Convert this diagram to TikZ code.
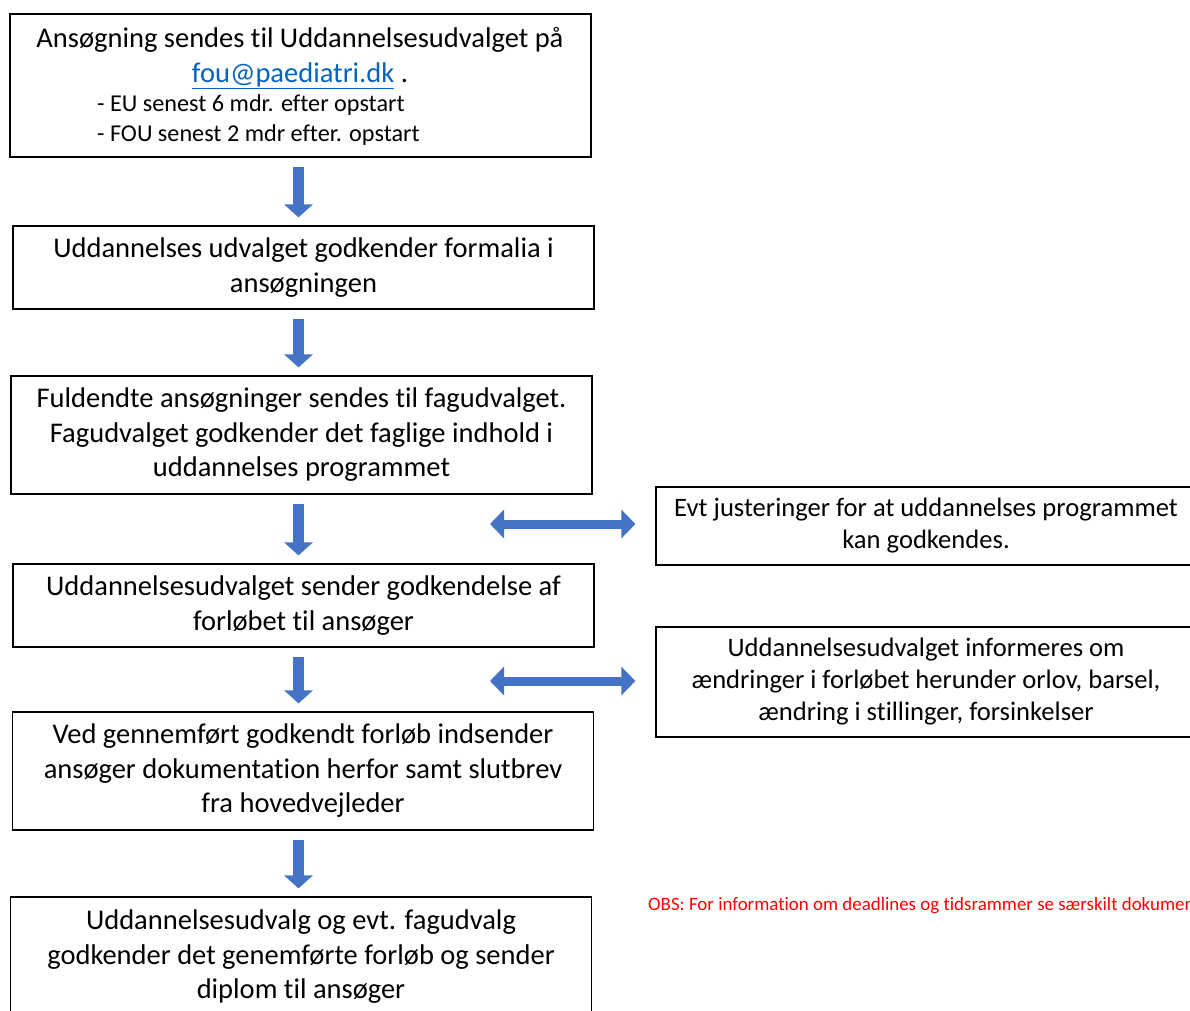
\documentclass[tikz,border=0pt]{standalone}
\usepackage{fontspec}
\setmainfont{Carlito}[Ligatures={NoCommon}]
\usepackage{tikz}
\usetikzlibrary{arrows.meta}
\usetikzlibrary{positioning}
\definecolor{arrowblue}{HTML}{4472C4}
\definecolor{linkblue}{HTML}{0563C1}
\definecolor{obsred}{HTML}{FF0000}
\tikzset{
% Flow boxes and blue block arrows
flowbox/.style={rectangle, draw=black, line width=1.2pt, align=center,
  minimum width=581pt, font=\fontsize{28.5}{34.5}\selectfont},
sidebox/.style={flowbox, minimum width=540pt, font=\fontsize{26.6}{32}\selectfont},
blockarrow/.style={draw=arrowblue, line width=11pt,
  -{Triangle[width=28pt, length=13pt]}, shorten <=9pt, shorten >=8pt},
twoway/.style={draw=arrowblue, line width=9pt,
  {Triangle[width=28pt, length=14pt]}-{Triangle[width=28pt, length=14pt]},
  shorten <=20pt}
}

\begin{document}
\begin{tikzpicture}[x=1pt, y=-1pt]
  \useasboundingbox (0,0) rectangle (1190,1010);
  \fill[white] (0,0) rectangle (1190,1010);

  \node[flowbox, minimum height=143pt] (ansog) at (300.5,85.5) {};
  \node[align=center, font=\fontsize{28.5}{34.5}\selectfont] (ansogtxt) at (300,58)
    {Ansøgning sendes til Uddannelsesudvalget på\\{\color{linkblue}\underline{fou@paediatri.dk}} .};
  \node[anchor=west, align=left, inner sep=0, font=\fontsize{24.2}{30}\selectfont] (frister) at (97,120)
    {- EU senest 6 mdr. efter opstart\\- FOU senest 2 mdr efter. opstart};

  \node[flowbox, minimum height=83pt] (formalia) at (303.5,267.5)
    {Uddannelses udvalget godkender formalia i\\ansøgningen};
  \node[flowbox, minimum height=118pt] (fagligt) at (301.5,435)
    {Fuldendte ansøgninger sendes til fagudvalget.\\Fagudvalget godkender det faglige indhold i\\uddannelses programmet};
  \node[flowbox, minimum height=83pt] (godkend) at (303.5,605.5)
    {Uddannelsesudvalget sender godkendelse af\\forløbet til ansøger};
  \node[flowbox, minimum height=118pt] (slutbrev) at (303,771)
    {Ved gennemført godkendt forløb indsender\\ansøger dokumentation herfor samt slutbrev\\fra hovedvejleder};
  \node[flowbox, minimum height=120pt] (diplom) at (301,957)
    {Uddannelsesudvalg og evt. fagudvalg\\godkender det genemførte forløb og sender\\diplom til ansøger};

  % side boxes
  \node[sidebox, minimum height=78pt] (juster) at (926,526)
    {Evt justeringer for at uddannelses programmet\\kan godkendes.};
  \node[sidebox, minimum height=110pt] (informer) at (926,682)
    {Uddannelsesudvalget informeres om\\ændringer i forløbet herunder orlov, barsel,\\ændring i stillinger, forsinkelser};

  \node[anchor=west, inner sep=0, text=obsred, font=\fontsize{18.9}{22}\selectfont] (obs) at (648,906)
    {OBS: For information om deadlines og tidsrammer se særskilt dokument};

  % down arrows
  \draw[blockarrow] ([xshift=-2pt]ansog.south) -- ([xshift=-2pt]ansog.south |- formalia.north);
  \draw[blockarrow] ([xshift=-2pt]ansog.south |- formalia.south) -- ([xshift=-2pt]ansog.south |- fagligt.north);
  \draw[blockarrow] ([xshift=-2pt]ansog.south |- fagligt.south) -- ([xshift=-2pt]ansog.south |- godkend.north);
  \draw[blockarrow] ([xshift=-2pt]ansog.south |- godkend.south) -- ([xshift=-2pt]ansog.south |- slutbrev.north);
  \draw[blockarrow] ([xshift=-2pt]ansog.south |- slutbrev.south) -- ([xshift=-2pt]ansog.south |- diplom.north);

  % two-way arrows
  \coordinate (justerend) at (490,524);
  \coordinate (informerend) at (490,681);
  \draw[twoway] (juster.west |- justerend) -- (justerend);
  \draw[twoway] (informer.west |- informerend) -- (informerend);
\end{tikzpicture}
\end{document}
